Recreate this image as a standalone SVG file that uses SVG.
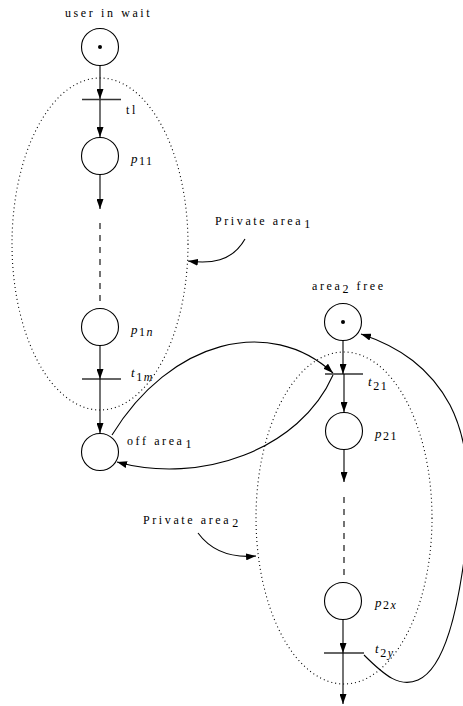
<svg xmlns="http://www.w3.org/2000/svg" width="463" height="706" viewBox="0 0 463 706">
  <style>
    .place { fill: none; stroke: #000; stroke-width: 1.1; }
    .token { fill: #000; }
    .bar { stroke: #333; stroke-width: 1.4; }
    .arc { fill: none; stroke: #000; stroke-width: 1.1; }
    .dash { fill: none; stroke: #000; stroke-width: 1.1; stroke-dasharray: 6 6; }
    .area { fill: none; stroke: #000; stroke-width: 1.1; stroke-dasharray: 1 3; }
    .lbl { font-family: "Liberation Serif", "DejaVu Serif", serif; font-size: 12px; letter-spacing: 2.6px; fill: #000; }
    .math { font-family: "Liberation Serif", "DejaVu Serif", serif; font-size: 13px; font-style: italic; letter-spacing: 1.5px; fill: #000; }
    .sub { font-style: normal; font-size: 12px; }
    .subi { font-style: italic; font-size: 12px; }
  </style>
  <defs>
    <marker id="arrow" markerUnits="userSpaceOnUse" markerWidth="10" markerHeight="7" refX="10" refY="3.5" orient="auto">
      <path d="M0,0 L10,3.5 L0,7 z" fill="#000"/>
    </marker>
  </defs>

  <!-- private areas -->
  <g id="area1">
    <ellipse class="area" cx="100" cy="244" rx="88" ry="166"/>
    <text class="lbl" x="215" y="225">Private area<tspan class="sub" dx="1" dy="3">1</tspan></text>
  </g>
  <g id="area2">
    <ellipse class="area" cx="344" cy="518" rx="88" ry="166"/>
    <text class="lbl" x="143" y="524">Private area<tspan class="sub" dx="1" dy="3">2</tspan></text>
  </g>

  <!-- places -->
  <g id="user-in-wait">
    <circle class="place" cx="100" cy="47" r="18.5"/>
    <circle class="token" cx="100" cy="47" r="2"/>
    <text class="lbl" x="65" y="17">user in wait</text>
  </g>
  <g id="p11">
    <circle class="place" cx="100" cy="156" r="18.5"/>
    <text class="math" x="131" y="163">p<tspan class="sub" dy="2">11</tspan></text>
  </g>
  <g id="p1n">
    <circle class="place" cx="100" cy="327" r="18.5"/>
    <text class="math" x="131" y="334">p<tspan class="sub" dy="2">1</tspan><tspan class="subi">n</tspan></text>
  </g>
  <g id="off-area1">
    <circle class="place" cx="100" cy="452" r="18.5"/>
    <text class="lbl" x="127" y="445">off area<tspan class="sub" dx="1" dy="3">1</tspan></text>
  </g>
  <g id="area2-free">
    <circle class="place" cx="343" cy="322" r="18.5"/>
    <circle class="token" cx="343" cy="322" r="2"/>
    <text class="lbl" x="312" y="290">area<tspan class="sub" dy="3">2</tspan><tspan dy="-3"> free</tspan></text>
  </g>
  <g id="p21">
    <circle class="place" cx="344" cy="431" r="18.5"/>
    <text class="math" x="375" y="438">p<tspan class="sub" dy="2">21</tspan></text>
  </g>
  <g id="p2x">
    <circle class="place" cx="343" cy="601" r="18.5"/>
    <text class="math" x="375" y="607">p<tspan class="sub" dy="2">2</tspan><tspan class="subi">x</tspan></text>
  </g>

  <!-- transitions -->
  <g id="t1">
    <line class="bar" x1="82" y1="99.5" x2="121" y2="99.5"/>
    <text class="lbl" x="126" y="114">tl</text>
  </g>
  <g id="t1m">
    <line class="bar" x1="82" y1="379" x2="121" y2="379"/>
    <text class="math" x="131" y="377">t<tspan class="sub" dy="4">1</tspan><tspan class="subi">m</tspan></text>
  </g>
  <g id="t21">
    <line class="bar" x1="325" y1="374" x2="363" y2="374"/>
    <text class="math" x="368" y="386">t<tspan class="sub" dy="4">21</tspan></text>
  </g>
  <g id="t2y">
    <line class="bar" x1="324" y1="653" x2="364" y2="653"/>
    <text class="math" x="375" y="653">t<tspan class="sub" dy="4">2</tspan><tspan class="subi">y</tspan></text>
  </g>

  <!-- connectors -->
  <g id="connectors">
    <line class="arc" x1="100" y1="66" x2="100" y2="99" marker-end="url(#arrow)"/>
    <line class="arc" x1="100" y1="100" x2="100" y2="137" marker-end="url(#arrow)"/>
    <line class="arc" x1="100" y1="175" x2="100" y2="209" marker-end="url(#arrow)"/>
    <line class="dash" x1="100" y1="223" x2="100" y2="303"/>
    <line class="arc" x1="100" y1="346" x2="100" y2="379" marker-end="url(#arrow)"/>
    <line class="arc" x1="100" y1="379" x2="100" y2="433" marker-end="url(#arrow)"/>

    <line class="arc" x1="343" y1="341" x2="343" y2="374" marker-end="url(#arrow)"/>
    <line class="arc" x1="344" y1="374" x2="344" y2="412" marker-end="url(#arrow)"/>
    <line class="arc" x1="344" y1="450" x2="344" y2="482" marker-end="url(#arrow)"/>
    <line class="dash" x1="344" y1="497" x2="344" y2="577"/>
    <line class="arc" x1="343" y1="620" x2="343" y2="653" marker-end="url(#arrow)"/>
    <line class="arc" x1="343" y1="653" x2="343" y2="704" marker-end="url(#arrow)"/>

    <path class="arc" d="M112,435 C170,340 270,315 333,373" marker-end="url(#arrow)"/>
    <path class="arc" d="M333,375 C300,450 200,485 117,462" marker-end="url(#arrow)"/>
    <path class="arc" d="M364,655 C385,676 400,688 418,680 C445,668 458,610 466,545 C472,490 468,440 450,405 C430,368 400,347 361,334" marker-end="url(#arrow)"/>

    <path class="arc" d="M245,239 C232,262 210,264 188,261" marker-end="url(#arrow)"/>
    <path class="arc" d="M198,533 C212,552 232,558 256,556" marker-end="url(#arrow)"/>
  </g>
</svg>
